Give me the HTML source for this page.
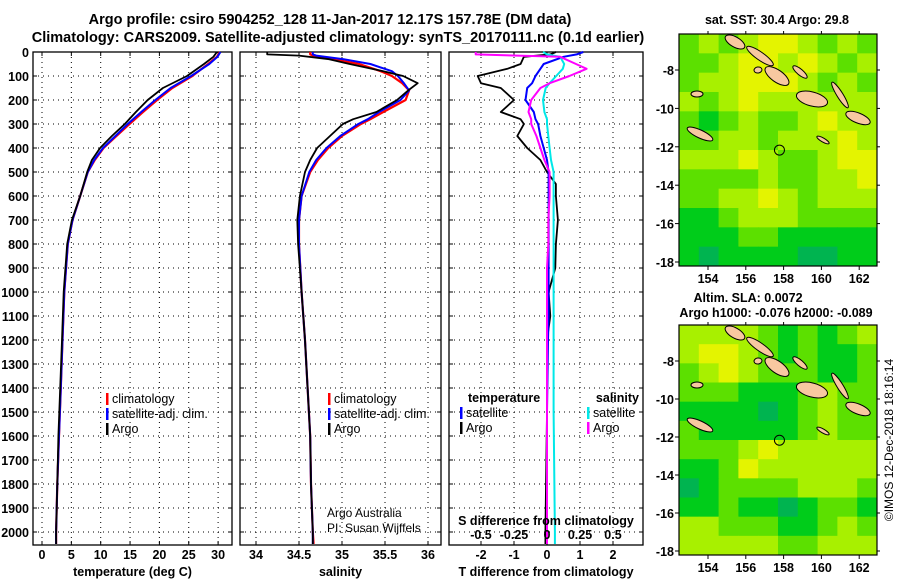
<!DOCTYPE html>
<html><head><meta charset="utf-8"><style>
html,body{margin:0;padding:0;background:#fff;}
svg{display:block;font-family:"Liberation Sans",sans-serif;}
.b{font-weight:bold;}
</style></head><body>
<svg id="svg" width="900" height="580" xmlns="http://www.w3.org/2000/svg">
<g id="titles">
<text x="330" y="24" text-anchor="middle" font-size="14.5" class="b">Argo profile: csiro 5904252_128 11-Jan-2017 12.17S 157.78E (DM data)</text>
<text x="338" y="42" text-anchor="middle" font-size="14.5" class="b">Climatology: CARS2009. Satellite-adjusted climatology: synTS_20170111.nc (0.1d earlier)</text>
</g>
<g id="plots"></g>
<g id="maps"></g>
<text transform="translate(893,440) rotate(-90)" text-anchor="middle" font-size="12">©IMOS 12-Dec-2018 18:16:14</text>
</svg>
<script>
const NS='http://www.w3.org/2000/svg';
// ---------- data ----------
const depthTicks=[0,100,200,300,400,500,600,700,800,900,1000,1100,1200,1300,1400,1500,1600,1700,1800,1900,2000];
const tempTicks=[0,5,10,15,20,25,30];
const salTicks=[34,34.5,35,35.5,36];
const salTickLabels=['34','34.5','35','35.5','36'];
const tdiffTicks=[-2,-1,0,1,2];
const sdiffTicks=[-0.5,-0.25,0,0.25,0.5];
const sdiffTickLabels=['-0.5','-0.25','0','0.25','0.5'];

const tDepth=[0,20,50,100,150,200,250,300,350,400,450,500,600,700,800,1000,1200,1400,1600,1800,2000,2050];
const tArgo=[29.8,29.2,27.6,24.7,20.6,18.0,16.0,14.1,11.9,9.9,8.5,7.7,6.5,5.1,4.3,3.7,3.4,3.1,2.8,2.6,2.4,2.4];
const tClim=[30.3,29.8,28.3,25.6,22.2,19.6,17.2,14.9,12.7,10.5,9.0,7.8,6.5,5.2,4.4,3.8,3.5,3.2,2.9,2.6,2.4,2.4];
const tSat=[30.4,29.9,28.5,25.4,21.9,19.3,16.9,14.6,12.5,10.4,8.9,7.8,6.5,5.2,4.4,3.8,3.5,3.2,2.9,2.6,2.4,2.4];

const sDepth=[0,10,15,30,50,80,100,130,160,200,250,280,300,350,400,450,500,600,700,800,1000,1200,1400,1600,1800,2000,2050];
const sArgo=[34.13,34.13,34.5,34.85,35.09,35.48,35.71,35.88,35.77,35.64,35.4,35.13,35.01,34.86,34.71,34.63,34.57,34.51,34.48,34.49,34.53,34.57,34.6,34.63,34.64,34.66,34.66];
const sClim=[34.63,34.63,34.66,34.9,35.2,35.45,35.58,35.7,35.78,35.74,35.48,35.33,35.22,35.0,34.84,34.72,34.63,34.53,34.5,34.5,34.53,34.57,34.6,34.63,34.64,34.66,34.67];
const sSat=[34.66,34.66,34.7,35.02,35.33,35.58,35.65,35.72,35.78,35.68,35.43,35.3,35.19,34.98,34.82,34.7,34.62,34.53,34.5,34.5,34.53,34.57,34.6,34.63,34.64,34.66,34.66];

const dDepth=[0,10,20,50,70,100,130,150,200,250,280,300,350,400,450,500,550,600,700,800,900,1000,1100,1200,1500,2000,2050];
const dTArgo=[0.27,0.1,-0.7,-0.8,-1.2,-2.1,-2.0,-1.4,-1.0,-1.4,-0.8,-0.7,-0.9,-0.6,-0.2,0.0,0.27,0.27,0.33,0.27,0.25,0.05,0.1,0.0,0.0,-0.05,-0.05];
const dTSat=[1.1,0.9,0.5,-0.1,-0.2,-0.35,-0.45,-0.6,-0.65,-0.4,-0.35,-0.27,-0.2,-0.1,0.0,0.05,0.05,0.05,0.05,0.05,0.05,0.05,0.05,0.03,0.0,0.0,0.0];
const dSArgo=[-0.54,-0.54,0.1,0.22,0.3,0.17,0.02,-0.05,-0.12,-0.14,-0.12,-0.12,-0.08,-0.05,-0.02,0.02,0.02,0.02,0.01,0.01,0.0,0.0,0.0,0.0,0.0,0.0,0.0];
const dSSat=[-0.03,0.0,0.1,0.13,0.12,0.07,0.02,-0.01,-0.03,-0.02,0.0,0.0,0.01,0.02,0.03,0.05,0.05,0.05,0.05,0.05,0.05,0.05,0.05,0.05,0.05,0.06,0.06];

const lonTicks=[154,156,158,160,162];
const latTicks=[-8,-10,-12,-14,-16,-18];
const sstGrid=[
[2,3,2,3,4,4,3,2,3,2],[2,2,3,4,4,3,4,3,2,3],[2,3,3,4,4,4,3,2,3,2],[3,2,3,4,3,3,3,3,3,3],
[2,1,2,3,2,2,3,4,3,3],[2,2,3,3,2,3,3,3,4,3],[3,3,3,4,3,2,2,3,4,4],[2,2,2,2,3,2,2,3,3,4],
[2,2,3,3,4,3,2,3,3,3],[1,1,2,3,3,3,2,2,2,2],[1,1,1,2,2,1,1,1,1,1],[1,0,1,1,1,1,0,0,1,1]];
const slaGrid=[
[3,3,3,3,2,1,2,1,2,3],[3,4,4,3,2,1,2,1,1,2],[2,3,4,3,2,2,2,1,1,2],[2,2,2,1,1,1,2,3,2,2],
[1,1,1,1,0,1,2,3,2,2],[2,1,1,1,1,1,2,3,2,2],[2,2,2,3,4,3,3,3,3,3],[1,1,2,4,3,3,3,3,3,3],
[0,1,2,2,2,2,3,3,3,2],[1,1,2,1,1,0,1,2,2,1],[3,3,2,2,2,1,1,2,3,2],[3,3,3,3,3,2,2,3,3,3]];
const argoLon=157.78, argoLat=-12.17;

// ---------- helpers ----------
function el(tag,attrs,parent){const e=document.createElementNS(NS,tag);for(const k in attrs)e.setAttribute(k,attrs[k]);(parent||document.getElementById('plots')).appendChild(e);return e;}
const Y0=52,PY=0.24,YB=545;
const yD=d=>Y0+d*PY;
const plots=document.getElementById('plots');

function panel(name,x0,x1,ticksX,xf,labels,title,showY){
  const g=el('g',{},plots);
  
  
  // grid
  depthTicks.forEach(d=>{const l=el('line',{x1:x0,x2:x1,y1:yD(d),y2:yD(d),stroke:'#000','stroke-width':1,'stroke-dasharray':'1,4'},g);
    
    el('line',{x1:x0,x2:x0+4,y1:yD(d),y2:yD(d),stroke:'#000'},g);el('line',{x1:x1-4,x2:x1,y1:yD(d),y2:yD(d),stroke:'#000'},g);
    if(showY){const t=el('text',{x:x0-4,y:yD(d)+5,'text-anchor':'end','font-size':12.5,'font-weight':'bold'},g);t.textContent=d;
      }
  });
  ticksX.forEach((v,i)=>{const x=xf(v);const l=el('line',{x1:x,x2:x,y1:Y0,y2:YB,stroke:'#000','stroke-dasharray':'1,4'},g);
    
    el('line',{x1:x,x2:x,y1:YB-4,y2:YB,stroke:'#000'},g);el('line',{x1:x,x2:x,y1:Y0,y2:Y0+4,stroke:'#000'},g);
    const t=el('text',{x:x,y:559,'text-anchor':'middle','font-size':12.5,'font-weight':'bold'},g);t.textContent=labels[i];
    });
  const r=el('rect',{x:x0,y:Y0,width:x1-x0,height:YB-Y0,fill:'none',stroke:'#000','stroke-width':1.3},g);
  
  const t=el('text',{x:(x0+x1)/2,y:576,'text-anchor':'middle','font-size':12.5,'font-weight':'bold'},g);t.textContent=title;
  
  return g;
}
function series(g,name,depths,vals,xf,color,w){
  const pts=depths.map((d,i)=>xf(vals[i]).toFixed(1)+','+yD(d).toFixed(1)).join(' ');
  const p=el('polyline',{points:pts,fill:'none',stroke:color,'stroke-width':w||2,'stroke-linejoin':'round'},g);
  
}
function legend(g,x,y,items){
  items.forEach((it,i)=>{
    el('rect',{x:x,y:y+i*15-10,width:2.5,height:12,fill:it[1]},g);
    const t=el('text',{x:x+6,y:y+i*15,'font-size':12.5},g);t.textContent=it[0];
    
  });
}
// Panel 1 temperature
const xT=v=>42+v*5.87;
const g1=panel('temperature-panel',33,232,tempTicks,xT,tempTicks.map(String),'temperature (deg C)',true);
series(g1,'temp-climatology-line',tDepth,tClim,xT,'#f00',2.2);
series(g1,'temp-satellite-line',tDepth,tSat,xT,'#00f',2);
series(g1,'temp-argo-line',tDepth,tArgo,xT,'#000',1.8);
legend(g1,106,403,[['climatology','#f00'],['satellite-adj. clim.','#00f'],['Argo','#000']]);
// Panel 2 salinity
const xS=v=>256+(v-34)*86;
const g2=panel('salinity-panel',240,441,salTicks,xS,salTickLabels,'salinity',false);
series(g2,'sal-climatology-line',sDepth,sClim,xS,'#f00',2.2);
series(g2,'sal-satellite-line',sDepth,sSat,xS,'#00f',2);
series(g2,'sal-argo-line',sDepth,sArgo,xS,'#000',1.8);
legend(g2,328,403,[['climatology','#f00'],['satellite-adj. clim.','#00f'],['Argo','#000']]);
let t=el('text',{x:327,y:517,'font-size':12},g2);t.textContent='Argo Australia';

t=el('text',{x:327,y:532,'font-size':12},g2);t.textContent='PI: Susan Wijffels';

// Panel 3 differences
const xDT=v=>547+v*33;
const xDS=v=>547+v*132;
const g3=panel('difference-panel',449,643,tdiffTicks,xDT,tdiffTicks.map(String),'T difference from climatology',false);
series(g3,'tdiff-argo-line',dDepth,dTArgo,xDT,'#000',1.8);
series(g3,'tdiff-satellite-line',dDepth,dTSat,xDT,'#00f',2);
series(g3,'sdiff-satellite-line',dDepth,dSSat,xDS,'#00e8e8',2);
series(g3,'sdiff-argo-line',dDepth,dSArgo,xDS,'#f0f',2);
t=el('text',{x:468,y:402,'font-size':12.5,'font-weight':'bold'},g3);t.textContent='temperature';

t=el('text',{x:639,y:402,'font-size':12.5,'font-weight':'bold','text-anchor':'end'},g3);t.textContent='salinity';

legend(g3,460,417,[['satellite','#00f'],['Argo','#000']]);
legend(g3,587,417,[['satellite','#00e8e8'],['Argo','#f0f']]);
t=el('text',{x:546,y:525,'font-size':12.5,'font-weight':'bold','text-anchor':'middle'},g3);t.textContent='S difference from climatology';

sdiffTicks.forEach((v,i)=>{const tt=el('text',{x:xDS(v),y:539,'font-size':12.5,'font-weight':'bold','text-anchor':'middle'},g3);tt.textContent=sdiffTickLabels[i];
  });

// ---------- maps ----------
const pal=['#00b450','#00cc1a','#5ce000','#a8f000','#e4f400'];
const maps=document.getElementById('maps');
const islands=[[735,42,11,5,30],[760,56,16,4,35],[777,76,14,6,35],[800,72,9,3,40],[812,99,16,7,15],[840,95,15,3,58],[858,118,13,5,22],[697,94,6,3,0],[700,134,14,4,25],[823,140,7,2,30],[758,70,3,4,80]];
function map(name,top,bottom,grid,titleLines){
  const x0=679,x1=877;
  const g=el('g',{},maps);
  
  
  const lonX=v=>708+(v-154)*18.9;
  const latY=v=>top+36+(-8-v)*((bottom-top-4-36)/10);
  const rows=grid.length, cols=grid[0].length;
  const cw=(x1-x0)/cols, ch=(bottom-top)/rows;
  grid.forEach((row,r)=>row.forEach((v,c)=>{
    const cell=el('rect',{x:x0+c*cw,y:top+r*ch,width:cw+0.5,height:ch+0.5,fill:pal[v]},g);
    
  }));
  const off=top-34;
  islands.forEach(s=>{const e=el('ellipse',{cx:s[0],cy:s[1]+off,rx:s[2],ry:s[3],fill:'#f8c8a0',stroke:'#000','stroke-width':1,transform:`rotate(${s[4]} ${s[0]} ${s[1]+off})`},g);
    });
  const c=el('circle',{cx:lonX(argoLon),cy:latY(argoLat),r:5,fill:'none',stroke:'#000','stroke-width':1},g);
  
  el('rect',{x:x0,y:top,width:x1-x0,height:bottom-top,fill:'none',stroke:'#000','stroke-width':1.2},g);
  lonTicks.forEach(v=>{const x=lonX(v);el('line',{x1:x,x2:x,y1:bottom,y2:bottom+4,stroke:'#000'},g);el('line',{x1:x,x2:x,y1:top-3,y2:top,stroke:'#000'},g);
    const tt=el('text',{x:x,y:bottom+17,'text-anchor':'middle','font-size':12.5,'font-weight':'bold'},g);tt.textContent=v;
    });
  latTicks.forEach(v=>{const y=latY(v);el('line',{x1:x0-4,x2:x0,y1:y,y2:y,stroke:'#000'},g);el('line',{x1:x1,x2:x1+3,y1:y,y2:y,stroke:'#000'},g);
    const tt=el('text',{x:x0-5,y:y+5,'text-anchor':'end','font-size':12.5,'font-weight':'bold'},g);tt.textContent=v;
    });
  titleLines.forEach((s,i)=>{const tt=el('text',{x:s[1],y:s[2],'text-anchor':'middle','font-size':12.5,'font-weight':'bold'},g);tt.textContent=s[0];
    });
}
map('sst-map',34,266,sstGrid,[['sat. SST: 30.4 Argo: 29.8',777,24]]);
map('sla-map',325,555,slaGrid,[['Altim. SLA: 0.0072',748,302],['Argo h1000: -0.076 h2000: -0.089',776,317]]);
</script>
</body></html>
